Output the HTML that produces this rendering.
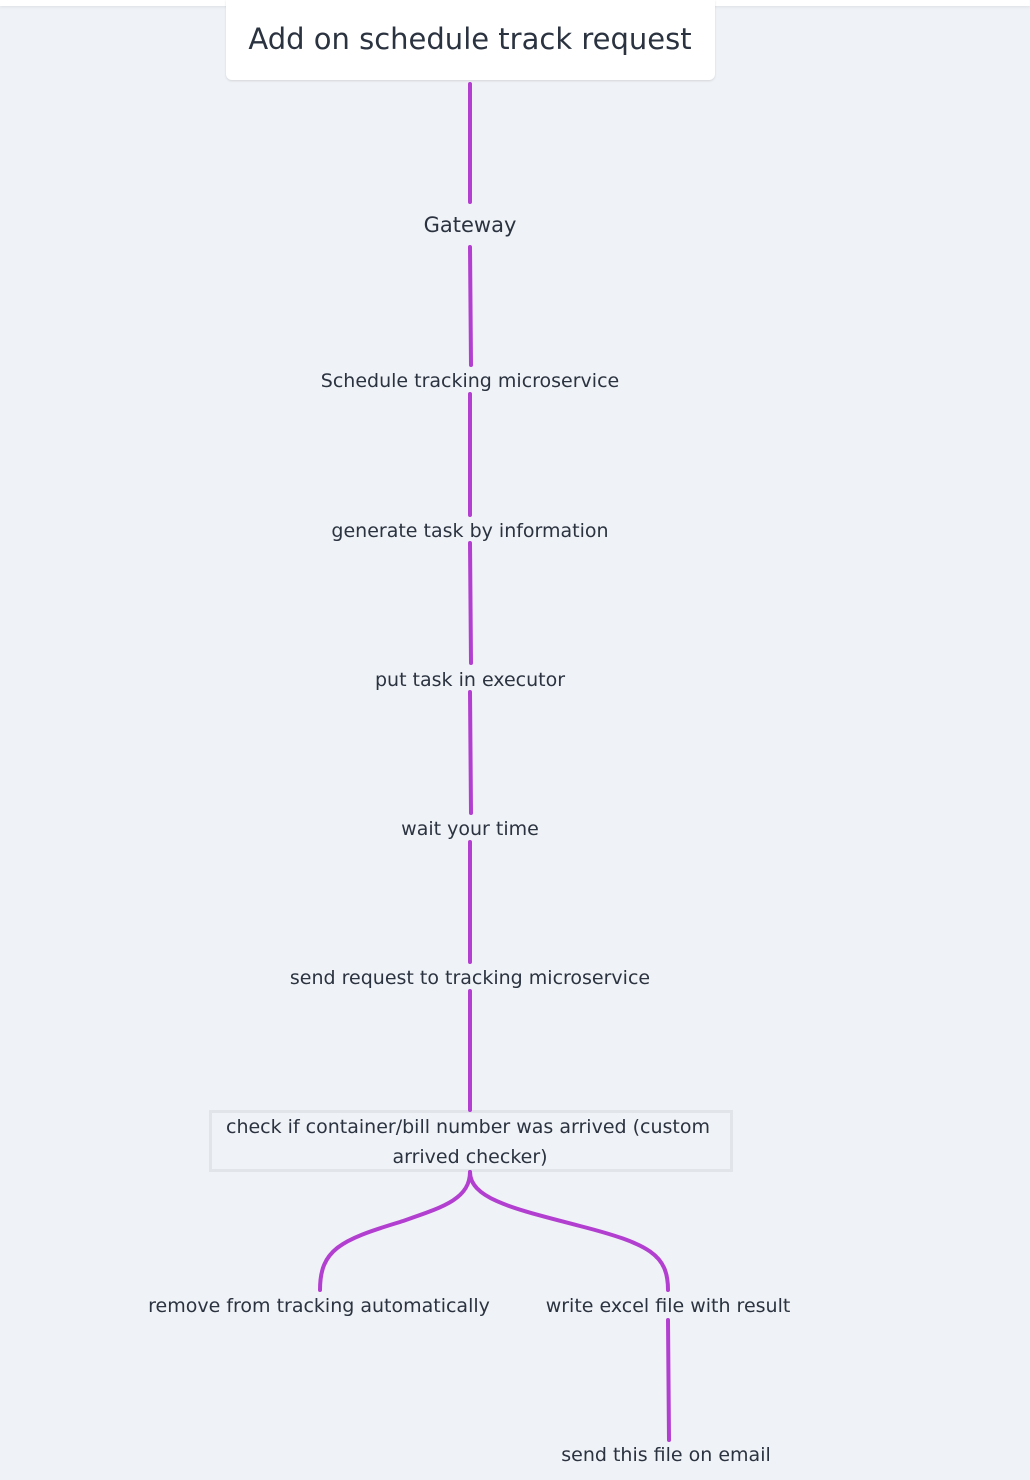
<!DOCTYPE html>
<html><head><meta charset="utf-8"><style>
body{margin:0;width:1030px;height:1480px;background:#eff2f6;position:relative;overflow:hidden;font-family:"DejaVu Sans","Liberation Sans",sans-serif;color:#2b3340}
.t{position:absolute;white-space:nowrap;transform:translate(-50%,-50%);font-size:19px}
svg{position:absolute;left:0;top:0}
</style></head><body>
<div style="position:absolute;left:0;top:0;width:1030px;height:6px;background:#fff;box-shadow:0 1px 3px rgba(0,0,0,.08)"></div>
<div style="position:absolute;left:226px;top:0;width:489px;height:80px;background:#fff;border-radius:0 0 6px 6px;box-shadow:0 1px 2px rgba(0,0,0,.12)"></div>
<div style="position:absolute;left:209px;top:1110px;width:518px;height:56px;border:3px solid #e1e5ea"></div>
<svg width="1030" height="1480" fill="none" stroke="#b23fd0" stroke-width="4" stroke-linecap="round">
<path d="M470 84V202M470 247L471 365M470 394V515M470 543L471 663M470 692L471 813M470 842V962M470 991V1110"/>
<path d="M470 1172C470 1200 440 1208 400 1222C340 1240 320 1250 320 1290"/>
<path d="M470 1172C470 1200 520 1210 580 1226C650 1244 668 1255 668 1290"/>
<path d="M668 1320L669 1440"/>
</svg>
<div class="t" style="left:470px;top:39px;font-size:29px">Add on schedule track request</div>
<div class="t" style="left:470px;top:225px;font-size:21px">Gateway</div>
<div class="t" style="left:470px;top:381px">Schedule tracking microservice</div>
<div class="t" style="left:470px;top:531px">generate task by information</div>
<div class="t" style="left:470px;top:680px">put task in executor</div>
<div class="t" style="left:470px;top:829px">wait your time</div>
<div class="t" style="left:470px;top:978px">send request to tracking microservice</div>
<div class="t" style="left:468px;top:1127px">check if container/bill number was arrived (custom</div>
<div class="t" style="left:470px;top:1157px">arrived checker)</div>
<div class="t" style="left:319px;top:1306px">remove from tracking automatically</div>
<div class="t" style="left:668px;top:1306px">write excel file with result</div>
<div class="t" style="left:666px;top:1455px">send this file on email</div>
</body></html>
